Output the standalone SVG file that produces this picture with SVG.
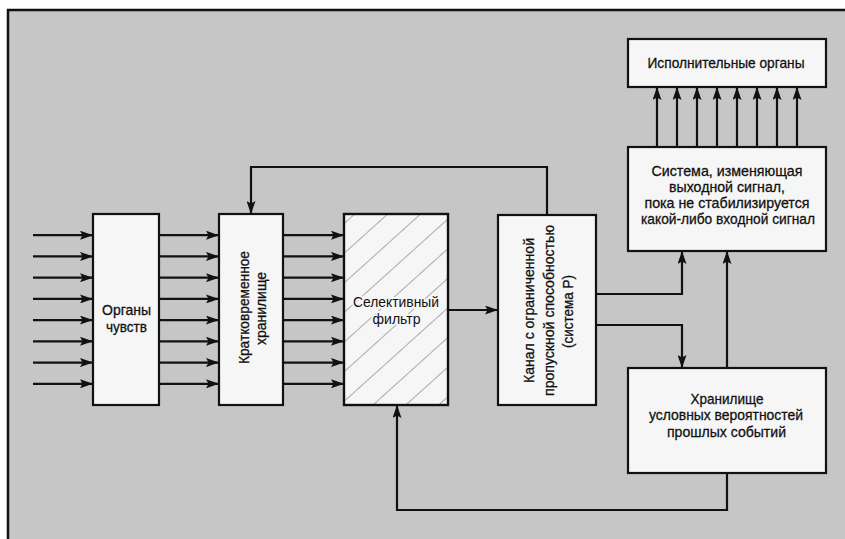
<svg xmlns="http://www.w3.org/2000/svg" width="845" height="539" viewBox="0 0 845 539">
<style>
.bg{fill:#c6c6c6}
.frame{fill:none;stroke:#111;stroke-width:2.5}
.box{fill:#f6f6f6;stroke:#111;stroke-width:2.2}
.ln{fill:none;stroke:#111;stroke-width:2.2}
.t{font-family:"Liberation Sans",Arial,sans-serif;font-size:15px;fill:#111;text-anchor:middle;stroke:#111;stroke-width:0.3}
.halo{stroke:#f6f6f6;stroke-width:4;paint-order:stroke;stroke-linejoin:round}
</style>
<defs>
<marker id="ah" viewBox="0 0 13 9" refX="13" refY="4.5" markerWidth="13" markerHeight="9" markerUnits="userSpaceOnUse" orient="auto">
<path d="M0,0 L13,4.5 L0,9 L2.5,4.5 z" fill="#111"/>
</marker>
<pattern id="hatch" width="22" height="22" patternUnits="userSpaceOnUse" patternTransform="rotate(48)">
<line x1="0" y1="-1" x2="0" y2="23" stroke="#808080" stroke-width="1.3"/>
</pattern>
</defs>
<rect class="bg" x="8" y="10" width="837" height="529"/>
<path class="frame" d="M8,539 V10 H845"/>

<g id="connectors">
<g id="inputs">
<path class="ln" marker-end="url(#ah)" d="M33,235.2 H93"/>
<path class="ln" marker-end="url(#ah)" d="M33,256.4 H93"/>
<path class="ln" marker-end="url(#ah)" d="M33,277.7 H93"/>
<path class="ln" marker-end="url(#ah)" d="M33,298.9 H93"/>
<path class="ln" marker-end="url(#ah)" d="M33,320.1 H93"/>
<path class="ln" marker-end="url(#ah)" d="M33,341.3 H93"/>
<path class="ln" marker-end="url(#ah)" d="M33,362.6 H93"/>
<path class="ln" marker-end="url(#ah)" d="M33,383.8 H93"/>
</g>
<g id="senses-to-stm">
<path class="ln" marker-end="url(#ah)" d="M159,235.2 H219"/>
<path class="ln" marker-end="url(#ah)" d="M159,256.4 H219"/>
<path class="ln" marker-end="url(#ah)" d="M159,277.7 H219"/>
<path class="ln" marker-end="url(#ah)" d="M159,298.9 H219"/>
<path class="ln" marker-end="url(#ah)" d="M159,320.1 H219"/>
<path class="ln" marker-end="url(#ah)" d="M159,341.3 H219"/>
<path class="ln" marker-end="url(#ah)" d="M159,362.6 H219"/>
<path class="ln" marker-end="url(#ah)" d="M159,383.8 H219"/>
</g>
<g id="stm-to-filter">
<path class="ln" marker-end="url(#ah)" d="M283,235.2 H344"/>
<path class="ln" marker-end="url(#ah)" d="M283,256.4 H344"/>
<path class="ln" marker-end="url(#ah)" d="M283,277.7 H344"/>
<path class="ln" marker-end="url(#ah)" d="M283,298.9 H344"/>
<path class="ln" marker-end="url(#ah)" d="M283,320.1 H344"/>
<path class="ln" marker-end="url(#ah)" d="M283,341.3 H344"/>
<path class="ln" marker-end="url(#ah)" d="M283,362.6 H344"/>
<path class="ln" marker-end="url(#ah)" d="M283,383.8 H344"/>
</g>
<path class="ln" marker-end="url(#ah)" d="M448,310 H498"/>
<path class="ln" marker-end="url(#ah)" d="M547,215 V167 H251 V214"/>
<path class="ln" marker-end="url(#ah)" d="M596,294 H682 V251"/>
<path class="ln" marker-end="url(#ah)" d="M596,325 H682 V368"/>
<path class="ln" marker-end="url(#ah)" d="M727,368 V251"/>
<path class="ln" marker-end="url(#ah)" d="M727,473 V510 H397 V405"/>
<g id="system-to-effectors">
<path class="ln" marker-end="url(#ah)" d="M657,147 V87"/>
<path class="ln" marker-end="url(#ah)" d="M677,147 V87"/>
<path class="ln" marker-end="url(#ah)" d="M697,147 V87"/>
<path class="ln" marker-end="url(#ah)" d="M717,147 V87"/>
<path class="ln" marker-end="url(#ah)" d="M737,147 V87"/>
<path class="ln" marker-end="url(#ah)" d="M757,147 V87"/>
<path class="ln" marker-end="url(#ah)" d="M777,147 V87"/>
<path class="ln" marker-end="url(#ah)" d="M797,147 V87"/>
</g>
</g>

<g id="senses">
<rect class="box" x="93" y="214" width="66" height="191"/>
<text class="t" x="126.5" y="315" textLength="49" lengthAdjust="spacingAndGlyphs">Органы</text>
<text class="t" x="126.5" y="332" textLength="41" lengthAdjust="spacingAndGlyphs">чувств</text>
</g>

<g id="short-term-store">
<rect class="box" x="219" y="214" width="64" height="191"/>
<g transform="translate(0,307.5) rotate(-90)">
<text class="t" x="0" y="249" textLength="113" lengthAdjust="spacingAndGlyphs">Кратковременное</text>
<text class="t" x="-1" y="266" textLength="73" lengthAdjust="spacingAndGlyphs">хранилище</text>
</g>
</g>

<g id="selective-filter">
<rect class="box" x="344" y="214" width="104" height="191"/>
<rect x="345" y="215" width="102" height="189" fill="url(#hatch)"/>
<rect x="344" y="214" width="104" height="191" fill="none" stroke="#111" stroke-width="2.2"/>
<text class="t halo" x="396" y="307" textLength="86" lengthAdjust="spacingAndGlyphs">Селективный</text>
<text class="t halo" x="396.5" y="324" textLength="48" lengthAdjust="spacingAndGlyphs">фильтр</text>
</g>

<g id="channel">
<rect class="box" x="498" y="215" width="98" height="190"/>
<g transform="translate(0,310.5) rotate(-90)">
<text class="t" x="0" y="534" textLength="145" lengthAdjust="spacingAndGlyphs">Канал с ограниченной</text>
<text class="t" x="0" y="554" textLength="171" lengthAdjust="spacingAndGlyphs">пропускной способностью</text>
<text class="t" x="-1" y="573" textLength="73" lengthAdjust="spacingAndGlyphs">(система Р)</text>
</g>
</g>

<g id="effectors">
<rect class="box" x="628" y="39" width="198" height="48"/>
<text class="t" x="726" y="68" textLength="157" lengthAdjust="spacingAndGlyphs">Исполнительные органы</text>
</g>

<g id="output-system">
<rect class="box" x="628" y="147" width="198" height="104"/>
<text class="t" x="727" y="176" textLength="151" lengthAdjust="spacingAndGlyphs">Система, изменяющая</text>
<text class="t" x="727" y="192" textLength="116" lengthAdjust="spacingAndGlyphs">выходной сигнал,</text>
<text class="t" x="727" y="208" textLength="165" lengthAdjust="spacingAndGlyphs">пока не стабилизируется</text>
<text class="t" x="728" y="224" textLength="174" lengthAdjust="spacingAndGlyphs">какой-либо входной сигнал</text>
</g>

<g id="probability-store">
<rect class="box" x="628" y="368" width="198" height="105"/>
<text class="t" x="727" y="404" textLength="73" lengthAdjust="spacingAndGlyphs">Хранилище</text>
<text class="t" x="726" y="420" textLength="154" lengthAdjust="spacingAndGlyphs">условных вероятностей</text>
<text class="t" x="726.5" y="437" textLength="119" lengthAdjust="spacingAndGlyphs">прошлых событий</text>
</g>
</svg>
